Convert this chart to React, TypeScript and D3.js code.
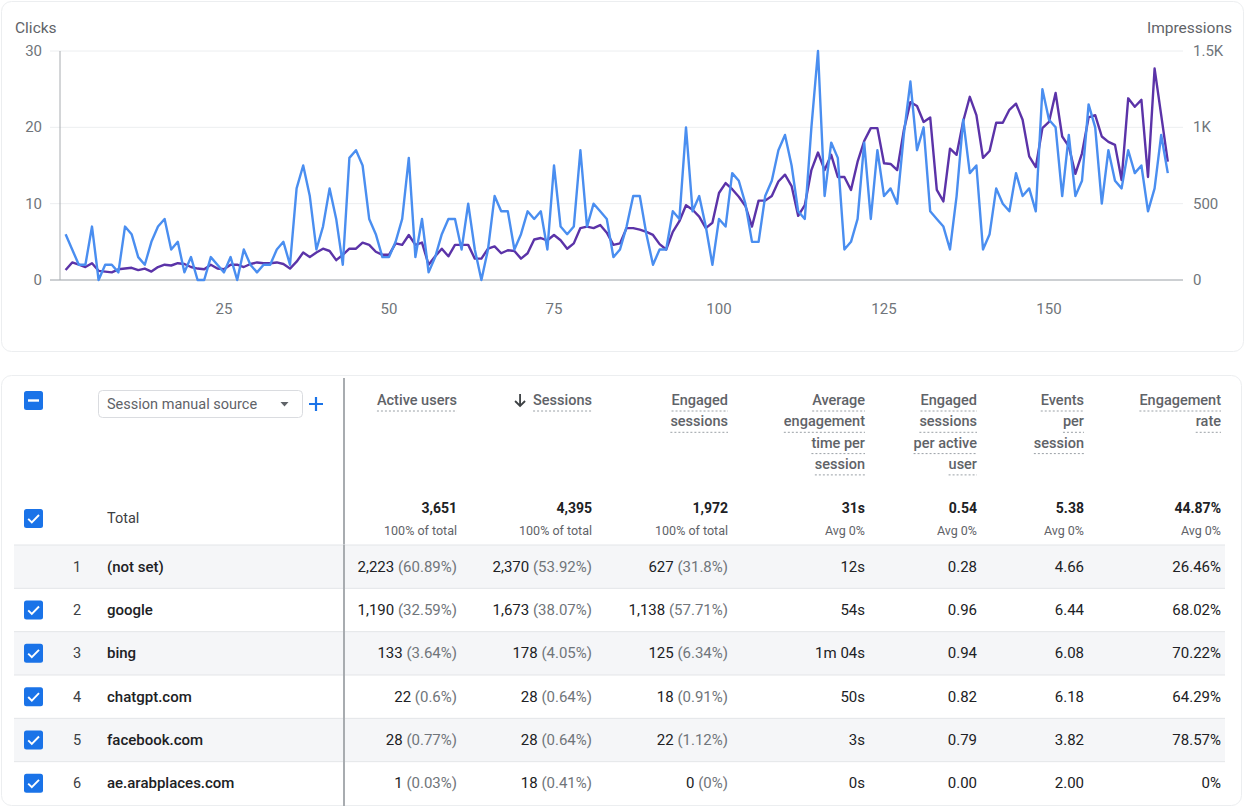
import React from 'react';
import * as d3 from 'd3';

// ---------- chart data ----------
const clicks = [
  6, 4, 2, 2, 7, 0, 2, 2, 1, 7, 6, 3, 2, 5, 7, 8, 4, 5, 1, 3,
  0, 0, 3, 2, 1, 3, 0, 4, 2, 1, 2, 2, 4, 5, 2, 12, 15, 11, 4, 7,
  12, 8, 2, 16, 17, 15, 8, 6, 3, 3, 5, 8, 16, 3, 8, 1, 3, 6, 8, 8,
  4, 10, 4, 0, 4, 11, 9, 9, 4, 6, 9, 8, 9, 4, 15, 7, 6, 7, 17, 7,
  10, 9, 8, 3, 4, 7, 11, 11, 6, 2, 4, 4, 9, 8, 20, 9, 11, 7, 2, 8,
  7, 14, 13, 10, 5, 5, 11, 13, 17, 19, 15, 9, 8, 20, 30, 11, 18, 16, 4, 5,
  8, 18, 8, 17, 11, 12, 10, 19, 26, 17, 20, 9, 8, 7, 4, 11, 21, 14, 15, 4,
  6, 12, 10, 9, 14, 11, 12, 9, 25, 21, 20, 11, 19, 11, 13, 23, 20, 10, 17, 13,
  12, 17, 14, 15, 9, 12, 19, 14,
];
const impressions = [
  65, 115, 100, 85, 110, 60, 55, 50, 70, 75, 80, 65, 75, 55, 85, 100, 95, 110, 105, 85,
  75, 70, 100, 75, 70, 100, 100, 85, 105, 115, 110, 110, 115, 105, 75, 120, 180, 150, 180, 205,
  190, 130, 165, 205, 205, 245, 230, 185, 165, 165, 240, 230, 295, 230, 245, 100, 155, 205, 155, 230,
  230, 230, 140, 140, 205, 220, 175, 195, 190, 140, 175, 265, 275, 260, 295, 260, 205, 240, 340, 350,
  340, 360, 310, 230, 240, 340, 340, 330, 315, 295, 235, 200, 315, 385, 490, 460, 415, 340, 375, 570,
  635, 595, 545, 485, 350, 520, 520, 550, 645, 690, 615, 420, 490, 720, 835, 720, 820, 675, 675, 590,
  775, 910, 995, 995, 765, 760, 720, 980, 1165, 1140, 1035, 1065, 590, 515, 860, 820, 1040, 1200, 1080, 800,
  845, 1030, 1030, 1115, 1155, 1050, 810, 740, 995, 1035, 1225, 940, 875, 695, 830, 1065, 1080, 940, 905, 885,
  655, 1190, 1135, 1180, 675, 1385, 1080, 775,
];
const days = clicks.map((_, i) => i + 1);
const xTicks = [25, 50, 75, 100, 125, 150];
const clickTicks = [0, 10, 20, 30];
const impressionTicks = [0, 500, 1000, 1500];
const leftAxisTitle = 'Clicks';
const rightAxisTitle = 'Impressions';

// ---------- table data ----------
const dimensionLabel = 'Session manual source';
const sources = ['(not set)', 'google', 'bing', 'chatgpt.com', 'facebook.com', 'ae.arabplaces.com'];
const sourceChecked = [false, true, true, true, true, true];
const metricHeaders = [
  ['Active users'],
  ['Sessions'],
  ['Engaged', 'sessions'],
  ['Average', 'engagement', 'time per', 'session'],
  ['Engaged', 'sessions', 'per active', 'user'],
  ['Events', 'per', 'session'],
  ['Engagement', 'rate'],
];
const sortedColumn = 1;
const totals = ['3,651', '4,395', '1,972', '31s', '0.54', '5.38', '44.87%'];
const totalNotes = ['100% of total', '100% of total', '100% of total', 'Avg 0%', 'Avg 0%', 'Avg 0%', 'Avg 0%'];
const activeUsers = ['2,223', '1,190', '133', '22', '28', '1'];
const activeUsersPct = ['60.89%', '32.59%', '3.64%', '0.6%', '0.77%', '0.03%'];
const sessions = ['2,370', '1,673', '178', '28', '28', '18'];
const sessionsPct = ['53.92%', '38.07%', '4.05%', '0.64%', '0.64%', '0.41%'];
const engagedSessions = ['627', '1,138', '125', '18', '22', '0'];
const engagedSessionsPct = ['31.8%', '57.71%', '6.34%', '0.91%', '1.12%', '0%'];
const avgEngagementTime = ['12s', '54s', '1m 04s', '50s', '3s', '0s'];
const engagedPerUser = ['0.28', '0.96', '0.94', '0.82', '0.79', '0.00'];
const eventsPerSession = ['4.66', '6.44', '6.08', '6.18', '3.82', '2.00'];
const engagementRate = ['26.46%', '68.02%', '70.22%', '64.29%', '78.57%', '0%'];

const FONT = 'Roboto, "Noto Sans", sans-serif';
const BLUE = '#4a8ef0';
const PURPLE = '#5b33a8';
const CB = '#1a73e8';

let _ctx: CanvasRenderingContext2D | null = null;
function measure(t: string, font: string) {
  if (!_ctx) _ctx = document.createElement('canvas').getContext('2d');
  if (!_ctx) return t.length * 7;
  _ctx.font = font;
  return _ctx.measureText(t).width;
}

function Checkbox({ x, y, kind }: { x: number; y: number; kind: 'check' | 'dash' }) {
  return (
    <g transform={`translate(${x},${y})`}>
      <rect width={19} height={19} rx={2.5} fill={CB} />
      {kind === 'check' ? (
        <path d="M4.2 9.8 L7.8 13.4 L15 6" fill="none" stroke="#fff" strokeWidth={1.9} />
      ) : (
        <rect x={4} y={8.3} width={11} height={2.4} fill="#fff" />
      )}
    </g>
  );
}

export default function App() {
  const x = d3.scaleLinear().domain([1, 168]).range([65.6, 1167.8]);
  const yL = d3.scaleLinear().domain([0, 30]).range([280, 51]);
  const yR = d3.scaleLinear().domain([0, 1500]).range([280, 51]);
  const lineClicks = d3.line<number>().x((_, i) => x(days[i])).y((d) => yL(d));
  const lineImp = d3.line<number>().x((_, i) => x(days[i])).y((d) => yR(d));
  const fmtK = (v: number) => (v >= 1000 ? `${v / 1000}K` : `${v}`);

  const colRight = [457, 592, 728, 865, 977, 1084, 1221];
  const rows = d3.scaleBand<string>().domain(sources).range([545, 805]);
  const headerFont = `500 14.5px ${FONT}`;

  const valueCols: [string[], string[] | null][] = [
    [activeUsers, activeUsersPct],
    [sessions, sessionsPct],
    [engagedSessions, engagedSessionsPct],
    [avgEngagementTime, null],
    [engagedPerUser, null],
    [eventsPerSession, null],
    [engagementRate, null],
  ];

  return (
    <div style={{ position: 'absolute', left: 0, top: 0 }}>
      <svg width={1248} height={808} fontFamily={FONT} style={{ display: 'block', background: '#fff' }}>
        {/* chart card */}
        <rect x={1.5} y={1.5} width={1242} height={350} rx={10} fill="#fff" stroke="#eceef0" />
        <text x={15} y={33} fontSize={15.5} fill="#5f6368">{leftAxisTitle}</text>
        <text x={1232} y={33} fontSize={15.5} fill="#5f6368" textAnchor="end">{rightAxisTitle}</text>
        {clickTicks.map((t) => (
          <g key={'gl' + t}>
            <line x1={50} x2={1183} y1={yL(t)} y2={yL(t)} stroke={t === 0 ? '#9aa0a6' : '#eceef0'} strokeWidth={1} />
            <text x={42} y={yL(t) + 5} fontSize={15} fill="#70757a" textAnchor="end">{t}</text>
          </g>
        ))}
        {impressionTicks.map((t) => (
          <text key={'r' + t} x={1193} y={yR(t) + 5} fontSize={15} fill="#70757a">{fmtK(t)}</text>
        ))}
        <line x1={60} x2={60} y1={51} y2={280} stroke="#a8acb0" strokeWidth={1} />
        {xTicks.map((t) => (
          <text key={'x' + t} x={x(t)} y={314} fontSize={15} fill="#70757a" textAnchor="middle">{t}</text>
        ))}
        <path d={lineImp(impressions) || ''} fill="none" stroke={PURPLE} strokeWidth={2.4} strokeLinejoin="round" />
        <path d={lineClicks(clicks) || ''} fill="none" stroke={BLUE} strokeWidth={2.4} strokeLinejoin="round" />

        {/* table card */}
        <rect x={1.5} y={375.5} width={1240} height={430} rx={10} fill="#fff" stroke="#eceef0" />
        <Checkbox x={24} y={391} kind="dash" />
        <rect x={98.5} y={390.5} width={204} height={27} rx={4} fill="#fff" stroke="#dadce0" />
        <text x={107} y={409} fontSize={14.5} fill="#5f6368">{dimensionLabel}</text>
        <path d="M280.5 402 L288.5 402 L284.5 406.5 Z" fill="#5f6368" />
        <path d="M316 397 V411 M309 404 H323" stroke={CB} strokeWidth={2.2} />
        <line x1={344} x2={344} y1={378} y2={806} stroke="#a8acb0" strokeWidth={2} />

        {metricHeaders.map((lines, c) => (
          <g key={'h' + c}>
            {lines.map((ln, k) => {
              const w = measure(ln, headerFont);
              const by = 405 + k * 21.3;
              return (
                <g key={k}>
                  <text x={colRight[c]} y={by} fontSize={14.5} fontWeight={500} fill="#5f6368" textAnchor="end">{ln}</text>
                  <line x1={colRight[c] - w} x2={colRight[c]} y1={by + 6} y2={by + 6} stroke="#9aa0a6" strokeDasharray="2,2" strokeWidth={1} />
                </g>
              );
            })}
            {c === sortedColumn && (() => {
              const w = measure(lines[0], headerFont);
              const ax = colRight[c] - w - 13;
              return <path d={`M${ax} 394 V406 M${ax - 5} 401 L${ax} 406 L${ax + 5} 401`} fill="none" stroke="#3c4043" strokeWidth={1.8} />;
            })()}
          </g>
        ))}

        {/* totals */}
        <Checkbox x={24} y={509} kind="check" />
        <text x={107} y={523} fontSize={14.5} fill="#3c4043">Total</text>
        {totals.map((t, c) => (
          <g key={'t' + c}>
            <text x={colRight[c]} y={513} fontSize={14} fontWeight={700} fill="#202124" textAnchor="end">{t}</text>
            <text x={colRight[c]} y={535} fontSize={12.5} fill="#5f6368" textAnchor="end">{totalNotes[c]}</text>
          </g>
        ))}

        {/* rows */}
        {sources.map((s, r) => {
          const y0 = rows(s) as number;
          const h = rows.bandwidth();
          const cy = y0 + h / 2;
          return (
            <g key={s}>
              <rect x={14} y={y0} width={1211} height={h} fill={r % 2 === 0 ? '#f5f6f8' : '#fff'} />
              <line x1={14} x2={1225} y1={y0} y2={y0} stroke="#e3e5e8" />
              {sourceChecked[r] && <Checkbox x={24} y={cy - 9.5} kind="check" />}
              <text x={77} y={cy + 5} fontSize={14.5} fill="#3c4043" textAnchor="middle">{r + 1}</text>
              <text x={107} y={cy + 5} fontSize={15} fontWeight={500} fill="#202124">{s}</text>
              {valueCols.map(([vals, pcts], c) => (
                <text key={c} x={colRight[c]} y={cy + 5} fontSize={15} fill="#202124" textAnchor="end">
                  <tspan>{vals[r]}</tspan>
                  {pcts && <tspan fill="#70757a">{` (${pcts[r]})`}</tspan>}
                </text>
              ))}
            </g>
          );
        })}
        <line x1={344} x2={344} y1={545} y2={806} stroke="#a8acb0" strokeWidth={2} />
      </svg>
    </div>
  );
}
